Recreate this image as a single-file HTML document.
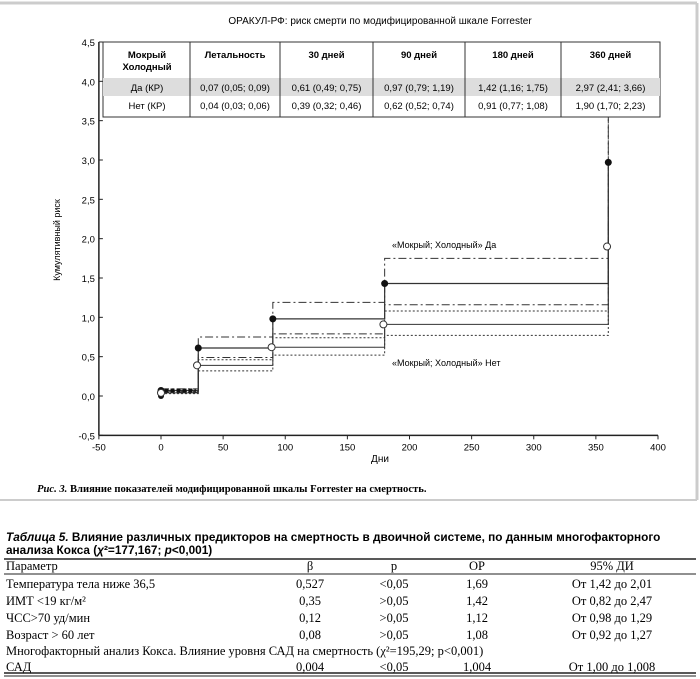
<!DOCTYPE html>
<html><head><meta charset="utf-8">
<style>
body{margin:0;background:#fff;width:700px;height:679px;overflow:hidden;font-family:"Liberation Sans",sans-serif;}
svg{position:absolute;left:0;top:0}
.serif{font-family:"Liberation Serif",serif}
</style></head>
<body>
<svg width="700" height="679">
  <g id="frame">
    <line x1="0" y1="3" x2="697" y2="3" stroke="#ccc" stroke-width="3"/>
    <line x1="697" y1="3" x2="697" y2="500" stroke="#ccc" stroke-width="3"/>
    <line x1="0" y1="500" x2="697" y2="500" stroke="#ccc" stroke-width="2"/>
  </g>
  <text x="380" y="24" font-size="10" text-anchor="middle">ОРАКУЛ-РФ: риск смерти по модифицированной шкале Forrester</text>
  <g id="axes"></g>
  <g id="series"></g>
  <g id="intable"></g>
  <text x="392" y="248" font-size="9">«Мокрый; Холодный» Да</text>
  <text x="392" y="366" font-size="9">«Мокрый; Холодный» Нет</text>
  <text x="60" y="240" font-size="9" text-anchor="middle" transform="rotate(-90 60 240)">Кумулятивный риск</text>
  <text x="380" y="462" font-size="10" text-anchor="middle">Дни</text>
  <text x="37" y="492" font-size="10.6" font-weight="bold" class="serif"><tspan font-style="italic">Рис. 3.</tspan> Влияние показателей модифицированной шкалы Forrester на смертность.</text>

  <text x="6" y="541" font-size="11.8" font-weight="bold"><tspan font-style="italic">Таблица 5.</tspan> Влияние различных предикторов на смертность в двоичной системе, по данным многофакторного</text>
  <text x="6" y="554" font-size="11.8" font-weight="bold">анализа Кокса (<tspan font-style="italic">χ</tspan>²=177,167; <tspan font-style="italic">p</tspan>&lt;0,001)</text>
  <g id="t5" class="serif" font-size="12.5"></g>
</svg>
<script>
const NS="http://www.w3.org/2000/svg";
function mk(tag,attrs,parent,txt){const e=document.createElementNS(NS,tag);for(const k in attrs)e.setAttribute(k,attrs[k]);if(txt!=null)e.textContent=txt;parent.appendChild(e);return e;}
// data
const days=[0,30,90,180,360];
const yesVal=[0.07,0.61,0.98,1.43,2.97];
const yesLo=[0.05,0.49,0.79,1.16,2.41];
const yesHi=[0.09,0.75,1.19,1.75,3.66];
const noVal=[0.04,0.39,0.62,0.91,1.90];
const noLo=[0.03,0.32,0.52,0.77,1.70];
const noHi=[0.06,0.46,0.74,1.08,2.23];
const xTicks=[-50,0,50,100,150,200,250,300,350,400];
const yTicks=[-0.5,0,0.5,1,1.5,2,2.5,3,3.5,4,4.5];
const X=d=>161+(d)*1.2425;
const Y=v=>396-v*78.67;
const ax=document.getElementById('axes');
let e=mk('line',{x1:X(-50),y1:Y(-0.5),x2:X(400),y2:Y(-0.5),stroke:'#222','stroke-width':1.5},ax);


e=mk('line',{x1:X(-50),y1:Y(-0.5),x2:X(-50),y2:Y(4.5),stroke:'#222','stroke-width':1.5},ax);


xTicks.forEach(t=>{mk('line',{x1:X(t),y1:Y(-0.5),x2:X(t),y2:Y(-0.5)+4,stroke:'#222'},ax);
 const l=mk('text',{x:X(t),y:Y(-0.5)+15,'font-size':9.5,'text-anchor':'middle'},ax,String(t));
 
 });
yTicks.forEach(t=>{mk('line',{x1:X(-50),y1:Y(t),x2:X(-50)+4,y2:Y(t),stroke:'#222'},ax);
 const l=mk('text',{x:X(-50)-4,y:Y(t)+4,'font-size':9.5,'text-anchor':'end'},ax,t.toFixed(1).replace('.',','));
 
 });
const sg=document.getElementById('series');
function step(vals,dash,name,w){
 let d='';
 for(let i=0;i<vals.length;i++){
  const x0=X(days[i]),x1=i<vals.length-1?X(days[i+1]):X(days[i]);
  d+=(i==0?'M':'L')+x0+','+Y(vals[i])+' L'+x1+','+Y(vals[i])+' ';
 }
 const p=mk('path',{d:d,fill:'none',stroke:'#333','stroke-width':w||1,'stroke-dasharray':dash||'none'},sg);
 
 
}
step(yesHi,'8,3,2,3','yes-upper-ci');
step(yesLo,'8,3,2,3','yes-lower-ci');
step(noHi,'2,2','no-upper-ci');
step(noLo,'2,2','no-lower-ci');
step(yesVal,null,'yes-line',1.2);
step(noVal,null,'no-line',1);
let v=mk('line',{x1:X(360),y1:Y(yesVal[3]),x2:X(360),y2:Y(yesHi[4]),stroke:'#333','stroke-dasharray':'8,3,2,3'},sg);


mk('line',{x1:X(-2),y1:Y(0.07),x2:X(28),y2:Y(0.07),stroke:'#111','stroke-width':4,'stroke-dasharray':'4,2'},sg);
let c=mk('circle',{cx:X(0),cy:Y(0),r:3,fill:'#111'},sg);


days.forEach((d,i)=>{
 const a=mk('circle',{cx:X(d),cy:Y(yesVal[i]),r:3.5,fill:'#111'},sg);
 
 
 const b=mk('circle',{cx:X(d===0?0:d-1),cy:Y(noVal[i]),r:3.5,fill:'#fff',stroke:'#333'},sg);
 
 
});
// inset table
const it=document.getElementById('intable');
const cols=[103,190,280,373,465,561,660];
mk('rect',{x:103,y:42,width:557,height:75,fill:'#fff',stroke:'#333'},it);
mk('rect',{x:103,y:78,width:557,height:18,fill:'#ddd'},it);
cols.slice(1,6).forEach(x=>mk('line',{x1:x,y1:42,x2:x,y2:117,stroke:'#333'},it));
const heads=['Летальность','30 дней','90 дней','180 дней','360 дней'];
const rowYes=['0,07 (0,05; 0,09)','0,61 (0,49; 0,75)','0,97 (0,79; 1,19)','1,42 (1,16; 1,75)','2,97 (2,41; 3,66)'];
const rowNo=['0,04 (0,03; 0,06)','0,39 (0,32; 0,46)','0,62 (0,52; 0,74)','0,91 (0,77; 1,08)','1,90 (1,70; 2,23)'];
mk('text',{x:147,y:58,'font-size':9.5,'font-weight':'bold','text-anchor':'middle'},it,'Мокрый');
mk('text',{x:147,y:70,'font-size':9.5,'font-weight':'bold','text-anchor':'middle'},it,'Холодный');
mk('text',{x:147,y:91,'font-size':9.5,'text-anchor':'middle'},it,'Да (КР)');
mk('text',{x:147,y:109,'font-size':9.5,'text-anchor':'middle'},it,'Нет (КР)');
heads.forEach((h,i)=>{const cx=(cols[i+1]+cols[i+2])/2;
 mk('text',{x:cx,y:58,'font-size':9.5,'font-weight':'bold','text-anchor':'middle'},it,h);
 mk('text',{x:cx,y:91,'font-size':9.5,'text-anchor':'middle'},it,rowYes[i]);
 mk('text',{x:cx,y:109,'font-size':9.5,'text-anchor':'middle'},it,rowNo[i]);});
// table 5
const t5=document.getElementById('t5');
mk('line',{x1:4,y1:559,x2:696,y2:559,stroke:'#222','stroke-width':1.5},t5);
mk('line',{x1:4,y1:574,x2:696,y2:574,stroke:'#222','stroke-width':1},t5);
mk('line',{x1:4,y1:673,x2:696,y2:673,stroke:'#222','stroke-width':1.5},t5);
mk('line',{x1:4,y1:676,x2:696,y2:676,stroke:'#222','stroke-width':1},t5);
const rows=[['Параметр','β','p','ОР','95% ДИ',570],
['Температура тела ниже 36,5','0,527','<0,05','1,69','От 1,42 до 2,01',588],
['ИМТ <19 кг/м²','0,35','>0,05','1,42','От 0,82 до 2,47',605],
['ЧСС>70 уд/мин','0,12','>0,05','1,12','От 0,98 до 1,29',622],
['Возраст > 60 лет','0,08','>0,05','1,08','От 0,92 до 1,27',639],
['САД','0,004','<0,05','1,004','От 1,00 до 1,008',671]];
rows.forEach(r=>{
 mk('text',{x:6,y:r[5]},t5,r[0]);
 [[310,1],[394,2],[477,3],[612,4]].forEach(([x,k])=>mk('text',{x:x,y:r[5],'text-anchor':'middle'},t5,r[k]));
});
mk('text',{x:6,y:655},t5,'Многофакторный анализ Кокса. Влияние уровня САД на смертность (χ²=195,29; p<0,001)');
</script>
</body></html>
